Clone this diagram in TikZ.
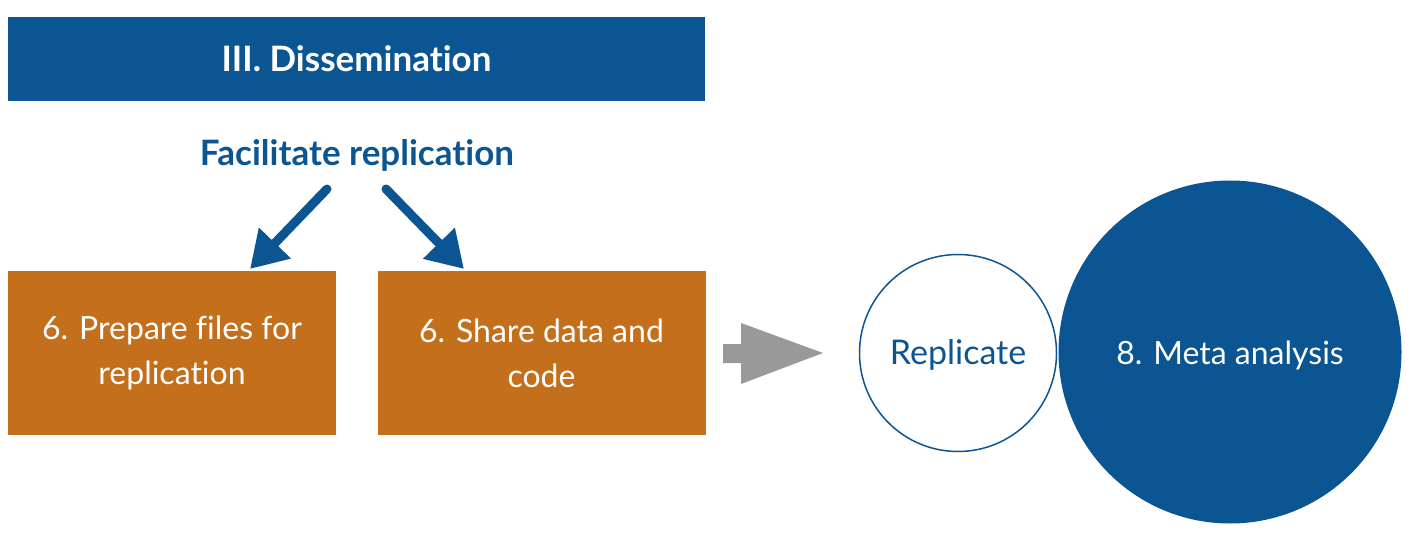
\documentclass[tikz,border=0pt]{standalone}
\usepackage{fontspec}
\setmainfont{Lato}[Ligatures={NoCommon}]
\usetikzlibrary{arrows.meta,calc}
\definecolor{dblue}{HTML}{0B5592}
\definecolor{dorange}{HTML}{C46F1C}
\definecolor{dgray}{HTML}{999999}
\tikzset{
  box/.style={fill=dorange, minimum width=328pt, minimum height=164pt, inner sep=0pt, text=white, align=center, font=\fontsize{32}{45}\selectfont},
  bluearrow/.style={draw=dblue, line width=9pt, line cap=round, -{Triangle[length=36pt,width=42pt]}},
}
\begin{document}
\begin{tikzpicture}[x=1pt,y=-1pt]
\useasboundingbox (0,0) rectangle (1418,540);
\node[fill=dblue, minimum width=697pt, minimum height=84pt, inner sep=0pt, text=white, font=\bfseries\fontsize{35}{40}\selectfont] (head) at (356.5,59) {III. Dissemination};
\node[text=dblue, font=\bfseries\fontsize{35}{40}\selectfont, inner sep=0pt] (fac) at (357,155) {Facilitate replication};
\node[box] (p1) at (172,353) {6. Prepare files for\\replication};
\node[box] (p2) at (541.5,353) {6. Share data and\\code};
\coordinate (s1) at (327,189);
\coordinate (t1) at (250,269);
\coordinate (s2) at (386,189);
\coordinate (t2) at (464,269);
\draw[bluearrow] (s1) -- (t1);
\draw[bluearrow] (s2) -- (t2);
\fill[dgray] (723,344) -- (741,344) -- (741,323) -- (823,353) -- (741,384) -- (741,363) -- (723,363) -- cycle;
\node[circle, draw=dblue, line width=1.5pt, minimum size=197pt, inner sep=0pt] (rep) at (958,353) {};
\node[text=dblue, font=\fontsize{34}{40}\selectfont, inner sep=0pt] at ($(rep.center)+(0,2)$) {Replicate};
\node[circle, fill=dblue, minimum size=343pt, inner sep=0pt] (meta) at (1230,352) {};
\node[text=white, font=\fontsize{32}{40}\selectfont, inner sep=0pt] at ($(meta.center)+(0,3)$) {8. Meta analysis};
\end{tikzpicture}
\end{document}
